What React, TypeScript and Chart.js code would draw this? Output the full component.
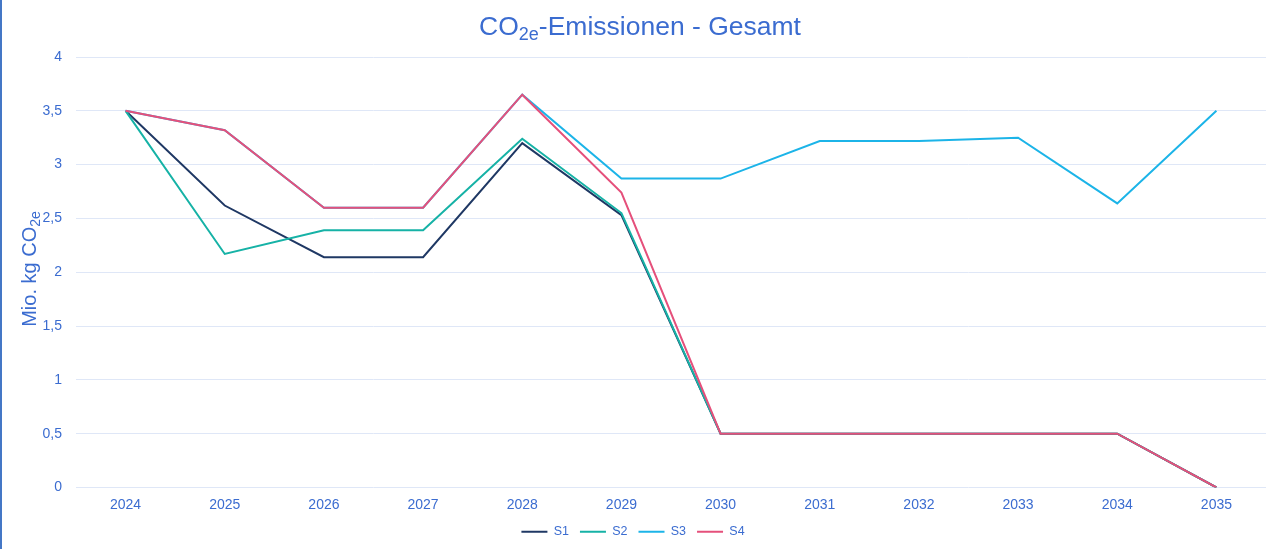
import React, { useEffect, useRef } from "react";
import { Chart, registerables } from "chart.js";

Chart.register(...registerables);

const years = ["2024", "2025", "2026", "2027", "2028", "2029", "2030", "2031", "2032", "2033", "2034", "2035"];
const s1 = [3.5, 2.62, 2.14, 2.14, 3.2, 2.53, 0.5, 0.5, 0.5, 0.5, 0.5, 0];
const s2 = [3.5, 2.17, 2.39, 2.39, 3.24, 2.55, 0.5, 0.5, 0.5, 0.5, 0.5, 0];
const s3 = [3.5, 3.32, 2.6, 2.6, 3.65, 2.87, 2.87, 3.22, 3.22, 3.25, 2.64, 3.5];
const s4 = [3.5, 3.32, 2.6, 2.6, 3.65, 2.74, 0.5, 0.5, 0.5, 0.5, 0.5, 0];
const seriesNames = ["S1", "S2", "S3", "S4"];
const seriesColors = ["#1f3864", "#16b2a6", "#1cb4e8", "#e5507b"];

const FONT = "'Liberation Sans', Arial, sans-serif";
const TEXT_COLOR = "#3b6cd0";

function drawSubText(
  ctx: CanvasRenderingContext2D,
  parts: { t: string; sub?: boolean }[],
  cx: number,
  y: number,
  size: number,
  subSize: number,
  subShift: number
) {
  let total = 0;
  for (const p of parts) {
    ctx.font = `${p.sub ? subSize : size}px ${FONT}`;
    total += ctx.measureText(p.t).width;
  }
  let x = cx - total / 2;
  ctx.textAlign = "left";
  ctx.textBaseline = "alphabetic";
  for (const p of parts) {
    ctx.font = `${p.sub ? subSize : size}px ${FONT}`;
    ctx.fillText(p.t, x, p.sub ? y + subShift : y);
    x += ctx.measureText(p.t).width;
  }
}

const decorPlugin = {
  id: "decor",
  afterDraw(chart: any) {
    const ctx = chart.ctx as CanvasRenderingContext2D;
    ctx.save();
    ctx.fillStyle = "#4477c6";
    ctx.fillRect(0, 0, 2, chart.height);
    ctx.fillStyle = TEXT_COLOR;
    drawSubText(
      ctx,
      [{ t: "CO" }, { t: "2e", sub: true }, { t: "-Emissionen - Gesamt" }],
      chart.width / 2,
      35,
      26.5,
      18,
      5
    );
    ctx.translate(36, 269);
    ctx.rotate(-Math.PI / 2);
    drawSubText(ctx, [{ t: "Mio. kg CO" }, { t: "2e", sub: true }], 0, 0, 20, 14, 4);
    ctx.restore();
  },
};

export default function App() {
  const ref = useRef<HTMLCanvasElement | null>(null);
  useEffect(() => {
    document.body.style.margin = "0";
    const seriesData = [s1, s2, s3, s4];
    const orders = [3, 2, 1, 0];
    const chart = new Chart(ref.current as HTMLCanvasElement, {
      type: "line",
      data: {
        labels: years,
        datasets: seriesData.map((d, i) => ({
          label: seriesNames[i],
          data: d,
          borderColor: seriesColors[i],
          backgroundColor: seriesColors[i],
          borderWidth: 2,
          pointRadius: 0,
          tension: 0,
          order: orders[i],
        })),
      },
      options: {
        responsive: false,
        animation: false,
        layout: { padding: { top: 57, right: 14, bottom: 1, left: 0 } },
        plugins: {
          title: { display: false },
          tooltip: { enabled: false },
          legend: {
            position: "bottom",
            labels: {
              usePointStyle: true,
              pointStyle: "line",
              pointStyleWidth: 26,
              padding: 11,
              color: TEXT_COLOR,
              font: { family: FONT, size: 12.5 },
              sort: (a: any, b: any) => a.datasetIndex - b.datasetIndex,
            },
          },
        },
        scales: {
          x: {
            offset: true,
            grid: { display: false, drawTicks: false },
            border: { display: false },
            ticks: { color: TEXT_COLOR, font: { family: FONT, size: 14 }, padding: 9, maxRotation: 0 },
            afterFit: (scale: any) => {
              scale.height = 27;
            },
          },
          y: {
            min: 0,
            max: 4,
            grid: { color: "#dfe7f7", lineWidth: 1, drawTicks: false },
            border: { display: false },
            ticks: {
              stepSize: 0.5,
              color: TEXT_COLOR,
              font: { family: FONT, size: 14 },
              padding: 14,
              callback: (v: any) => String(v).replace(".", ","),
            },
            afterFit: (scale: any) => {
              scale.width = 76;
            },
          },
        },
      },
      plugins: [decorPlugin],
    } as any);
    return () => chart.destroy();
  }, []);
  return (
    <div style={{ width: 1280, height: 549, background: "#ffffff" }}>
      <canvas ref={ref} width={1280} height={549} />
    </div>
  );
}
